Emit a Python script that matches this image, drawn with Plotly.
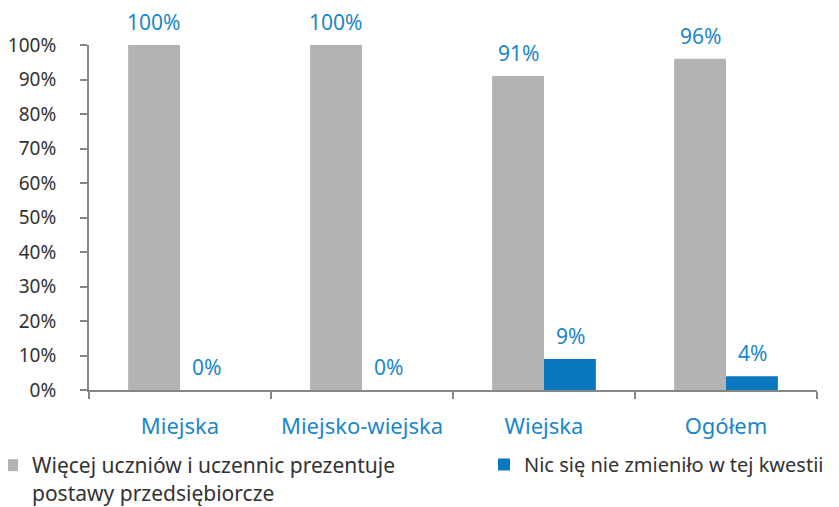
import plotly.graph_objects as go

categories = ["Miejska", "Miejsko-wiejska", "Wiejska", "Ogółem"]
series1_name = "Więcej uczniów i uczennic prezentuje<br>postawy przedsiębiorcze"
series1_values = [1.00, 1.00, 0.91, 0.96]
series2_name = "Nic się nie zmieniło w tej kwestii"
series2_values = [0.00, 0.00, 0.09, 0.04]
y_tick_values = [0, 0.1, 0.2, 0.3, 0.4, 0.5, 0.6, 0.7, 0.8, 0.9, 1.0]
y_tick_labels = ["0%", "10%", "20%", "30%", "40%", "50%", "60%", "70%", "80%", "90%", "100%"]

FONT = "Noto Sans"
BLUE_TEXT = "#1a87c9"
GRAY = "#b3b3b3"
BLUE = "#0a78bf"
AXIS = "#878787"
DARK = "#333333"

# page body has an 8px default margin, so the figure is sized to fill the rest
W, H = 831, 499
L, R, T, B = 81, 22, 37, 117
PLOT_W = W - L - R

fig = go.Figure()
fig.add_trace(go.Bar(
    x=categories, y=series1_values, name=series1_name,
    marker=dict(color=GRAY, line=dict(width=0)), legend="legend",
))
fig.add_trace(go.Bar(
    x=categories, y=series2_values, name=series2_name,
    marker=dict(color=BLUE, line=dict(width=0)), legend="legend2",
))

annotations = []
for series_values, shift in ((series1_values, -26), (series2_values, 26)):
    for cat, v in zip(categories, series_values):
        annotations.append(dict(
            x=cat, y=v, xref="x", yref="y", text=f"{round(v*100)}%",
            showarrow=False, xanchor="center", yanchor="bottom",
            xshift=shift, yshift=7,
            font=dict(color=BLUE_TEXT, size=21, family=FONT),
        ))

fig.update_layout(
    width=W, height=H,
    margin=dict(l=L, r=R, t=T, b=B, autoexpand=False),
    paper_bgcolor="white", plot_bgcolor="white",
    barmode="group", bargap=0.43, bargroupgap=0,
    font=dict(family=FONT, color=DARK, size=18),
    showlegend=True,
    annotations=annotations,
    legend=dict(
        orientation="h", xref="paper", x=(-16 - L) / PLOT_W, xanchor="left",
        yref="container", y=1 - 437 / H, yanchor="top", valign="top",
        font=dict(size=21, color=DARK, family=FONT),
        bgcolor="rgba(0,0,0,0)",
    ),
    legend2=dict(
        orientation="h", xref="container", x=476 / W, xanchor="left",
        yref="container", y=1 - 437 / H, yanchor="top", valign="top",
        font=dict(size=20, color=DARK, family=FONT),
        bgcolor="rgba(0,0,0,0)",
    ),
    xaxis=dict(
        showline=True, linecolor=AXIS, linewidth=2,
        ticks="outside", tickson="boundaries", tickcolor=AXIS, ticklen=7, tickwidth=2,
        tickfont=dict(color=BLUE_TEXT, size=22, family=FONT),
        showgrid=False, zeroline=False,
        ticklabelstandoff=16,
    ),
    yaxis=dict(
        range=[0, 1.0], tickvals=y_tick_values, ticktext=y_tick_labels,
        showline=True, linecolor=AXIS, linewidth=2,
        ticks="outside", tickcolor=AXIS, ticklen=7, tickwidth=2,
        tickfont=dict(color=DARK, size=19, family=FONT),
        showgrid=False, zeroline=False,
        ticklabelstandoff=20,
    ),
)

fig.write_html("out.html")
